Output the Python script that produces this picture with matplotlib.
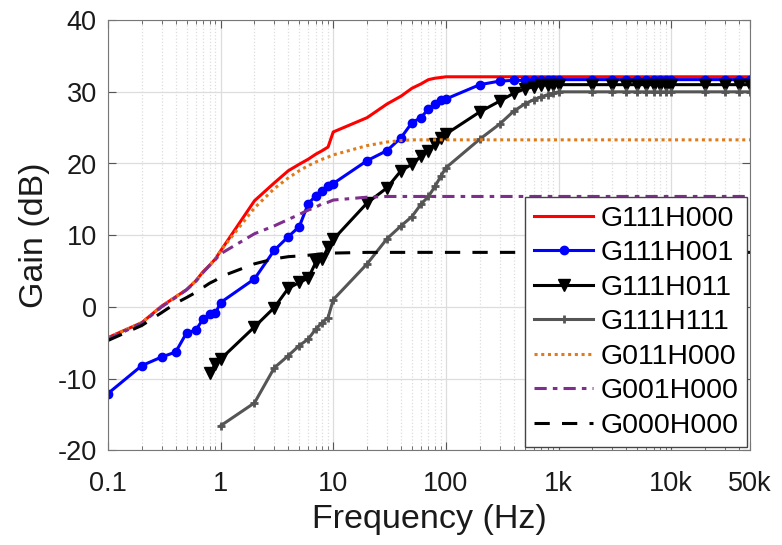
import matplotlib
matplotlib.use("Agg")
import matplotlib.pyplot as plt
from matplotlib.ticker import LogLocator, NullFormatter

plt.rcParams['font.family'] = ['Liberation Sans', 'DejaVu Sans']
plt.rcParams['axes.unicode_minus'] = False

# measurement frequencies (Hz)
freq = [0.1, 0.2, 0.3, 0.4, 0.5, 0.6, 0.7, 0.8, 0.9,
        1, 2, 3, 4, 5, 6, 7, 8, 9,
        10, 20, 30, 40, 50, 60, 70, 80, 90,
        100, 200, 300, 400, 500, 600, 700, 800, 900,
        1e3, 2e3, 3e3, 4e3, 5e3, 6e3, 7e3, 8e3, 9e3,
        1e4, 2e4, 3e4, 4e4, 5e4]

g111h000 = [-4.3, -2.2, 0.1, 1.4, 2.4, 3.6, 4.9, 5.8, 6.7,
            7.8, 14.8, 17.3, 19.0, 19.9, 20.6, 21.3, 21.8, 22.3,
            24.4, 26.4, 28.3, 29.4, 30.5, 31.1, 31.7, 31.9, 32.0,
            32.1, 32.1, 32.1, 32.1, 32.1, 32.1, 32.1, 32.1, 32.1,
            32.1, 32.1, 32.1, 32.1, 32.1, 32.1, 32.1, 32.1, 32.1,
            32.1, 32.1, 32.1, 32.1, 32.1]

g111h001 = [-12.1, -8.2, -7.0, -6.3, -3.6, -3.3, -1.7, -1.0, -0.9,
            0.6, 3.9, 7.9, 9.8, 11.2, 14.4, 15.5, 16.2, 16.9,
            17.2, 20.4, 21.8, 23.6, 25.7, 26.4, 27.6, 28.3, 28.8,
            29.0, 31.0, 31.5, 31.6, 31.6, 31.6, 31.7, 31.7, 31.7,
            31.7, 31.7, 31.7, 31.7, 31.7, 31.7, 31.7, 31.7, 31.7,
            31.7, 31.7, 31.7, 31.7, 31.7]

freq_h011 = freq[7:]
g111h011 = [-9.3, -8.0,
            -7.3, -2.8, -0.1, 2.6, 3.4, 4.0, 6.2, 6.7, 8.3,
            9.4, 14.5, 16.6, 19.0, 19.9, 21.0, 21.8, 22.7, 23.5,
            24.1, 27.2, 28.7, 29.8, 30.4, 30.7, 30.9, 31.0, 31.0,
            31.0, 31.0, 31.0, 31.0, 31.0, 31.0, 31.0, 31.0, 31.0,
            31.0, 31.0, 31.0, 31.0, 31.0]

freq_h111 = freq[9:]
g111h111 = [-16.6, -13.4, -8.5, -6.8, -5.4, -4.5, -3.1, -2.2, -1.5,
            1.0, 6.0, 9.5, 11.3, 12.6, 14.3, 15.4, 16.8, 18.2,
            19.4, 23.4, 25.5, 27.3, 28.3, 28.9, 29.3, 29.6, 29.8,
            30.0, 30.0, 30.0, 30.0, 30.0, 30.0, 30.0, 30.0, 30.0,
            30.0, 30.0, 30.0, 30.0, 30.0]

g011h000 = [-4.3, -2.2, 0.1, 1.4, 2.4, 3.6, 4.9, 5.8, 6.7,
            7.8, 13.8, 16.5, 18.0, 19.0, 19.7, 20.2, 20.6, 20.9,
            21.2, 22.5, 23.0, 23.2, 23.3, 23.3, 23.3, 23.3, 23.3,
            23.3, 23.3, 23.3, 23.3, 23.3, 23.3, 23.3, 23.3, 23.3,
            23.3, 23.3, 23.3, 23.3, 23.3, 23.3, 23.3, 23.3, 23.3,
            23.3, 23.3, 23.3, 23.3, 23.3]

g001h000 = [-4.5, -2.3, 0.0, 1.3, 2.4, 3.5, 4.8, 5.8, 6.6,
            7.4, 10.2, 11.3, 12.2, 12.9, 13.5, 13.9, 14.4, 14.6,
            14.9, 15.3, 15.4, 15.4, 15.4, 15.4, 15.4, 15.4, 15.4,
            15.4, 15.4, 15.4, 15.4, 15.4, 15.4, 15.4, 15.4, 15.4,
            15.4, 15.4, 15.4, 15.4, 15.4, 15.4, 15.4, 15.4, 15.4,
            15.4, 15.4, 15.4, 15.4, 15.4]

g000h000 = [-4.7, -2.6, -0.8, 0.5, 1.3, 2.0, 2.7, 3.3, 3.7,
            4.2, 6.0, 6.7, 7.0, 7.1, 7.2, 7.3, 7.4, 7.4,
            7.5, 7.6, 7.6, 7.6, 7.6, 7.6, 7.6, 7.6, 7.6,
            7.6, 7.6, 7.6, 7.6, 7.6, 7.6, 7.6, 7.6, 7.6,
            7.6, 7.6, 7.6, 7.6, 7.6, 7.6, 7.6, 7.6, 7.6,
            7.6, 7.6, 7.6, 7.6, 7.6]

xticks = [0.1, 1, 10, 100, 1e3, 1e4, 5e4]
xticklabels = ['0.1', '1', '10', '100', '1k', '10k', '50k']

fig = plt.figure(figsize=(7.82, 5.45), dpi=100)
ax = fig.add_axes([0.138, 0.174, 0.821, 0.789])

ax.plot(freq, g111h000, color='red', lw=2.2, label='G111H000')
ax.plot(freq, g111h001, color='blue', lw=2.2, marker='o', ms=6, label='G111H001')
ax.plot(freq_h011, g111h011, color='black', lw=2.2, marker='v', ms=8, label='G111H011')
ax.plot(freq_h111, g111h111, color='#555555', lw=2.2, marker='+', ms=6, mew=2, label='G111H111')
ax.plot(freq, g011h000, color='#E07B1A', lw=2.2, ls=(0, (1, 1.2)), label='G011H000')
ax.plot(freq, g001h000, color='#7E2F8E', lw=2.2, ls=(0, (4, 2, 1.5, 2)), label='G001H000')
ax.plot(freq, g000h000, color='black', lw=2.2, ls=(0, (5, 4)), label='G000H000')

ax.set_xscale('log')
ax.set_xlim(0.1, 5e4)
ax.set_ylim(-20, 40)
ax.set_xticks(xticks)
ax.set_xticklabels(xticklabels)
ax.xaxis.set_minor_locator(LogLocator(base=10, subs=range(2, 10), numticks=20))
ax.xaxis.set_minor_formatter(NullFormatter())
ax.set_yticks(range(-20, 41, 10))

ax.grid(True, which='major', color='#dddddd', lw=0.9, ls='-')
ax.grid(True, which='minor', axis='x', color='#dddddd', lw=0.9, ls=':')
ax.set_axisbelow(True)

ax.tick_params(which='both', direction='in', top=True, right=True,
               labelsize=19.5, colors='#555555', labelcolor='#1a1a1a')
ax.tick_params(axis='x', which='major', pad=15)
ax.tick_params(axis='y', which='major', pad=8)
ax.tick_params(which='major', length=6)
ax.tick_params(which='minor', length=3)
for s in ax.spines.values():
    s.set_color('#777777')

ax.set_xlabel('Frequency (Hz)', fontsize=24.5, color='#1a1a1a', labelpad=5)
ax.set_ylabel('Gain (dB)', fontsize=24.5, color='#1a1a1a', labelpad=5)

leg = ax.legend(loc='lower right', fontsize=20.5, frameon=True, fancybox=False,
                framealpha=1, edgecolor='#444444', labelspacing=0.3,
                handlelength=2.1, handletextpad=0.25, borderpad=0.3,
                borderaxespad=0.1)
leg.get_frame().set_linewidth(1.0)

fig.savefig('out.png', dpi=100)
